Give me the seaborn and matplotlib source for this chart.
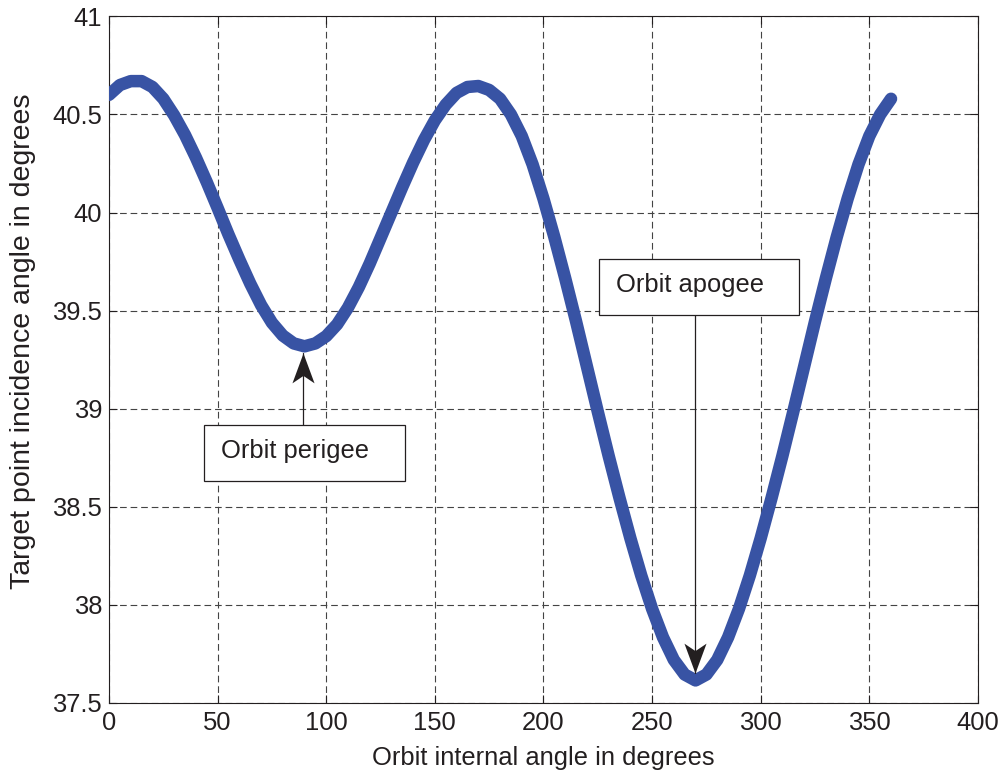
import numpy as np
import pandas as pd
import matplotlib
matplotlib.use("Agg")
import matplotlib.pyplot as plt
from matplotlib.patches import Rectangle
from matplotlib.path import Path
import seaborn as sns

# Orbit internal angle (deg) and target point incidence angle (deg)
orbit_angle = list(range(0, 361, 5))
incidence_angle = [
    40.60, 40.65, 40.67, 40.67, 40.64, 40.58, 40.495, 40.395, 40.28, 40.155,
    40.023, 39.888, 39.76, 39.638, 39.528, 39.438, 39.373, 39.333, 39.318,
    39.333, 39.37, 39.43, 39.515, 39.62, 39.74, 39.87, 40.0, 40.13, 40.255,
    40.37, 40.47, 40.55, 40.61, 40.64, 40.645, 40.625, 40.58,
    40.50, 40.39, 40.245, 40.07, 39.875, 39.665, 39.445, 39.215, 38.985, 38.76,
    38.545, 38.34, 38.15, 37.98, 37.835, 37.72, 37.645, 37.615,
    37.645, 37.72, 37.835, 37.98, 38.15, 38.34, 38.545, 38.76, 38.985, 39.215,
    39.445, 39.665, 39.875, 40.07, 40.245, 40.39, 40.50, 40.58,
]

x_ticks = [0, 50, 100, 150, 200, 250, 300, 350, 400]
y_ticks = [37.5, 38, 38.5, 39, 39.5, 40, 40.5, 41]
y_tick_labels = ["37.5", "38", "38.5", "39", "39.5", "40", "40.5", "41"]

# Callouts: label, box corners (x0, x1, y_bottom, y_top), arrow tip (x, y)
callout_labels = ["Orbit perigee", "Orbit apogee"]
callout_boxes = [(43.9, 136.1, 38.633, 38.918), (225.5, 317.6, 39.478, 39.765)]
callout_tips = [(89.2, 39.285), (269.7, 37.655)]

df = pd.DataFrame({"angle": orbit_angle, "incidence": incidence_angle})

sns.set_theme(style="white")
plt.rcParams["font.family"] = ["Liberation Sans", "DejaVu Sans"]
text_color = "#231f20"
font_size = 18.4

fig = plt.figure(figsize=(10.03, 7.73), dpi=100)
ax = fig.add_axes([0.1087, 0.0906, 0.975 - 0.1087, 0.9788 - 0.0906])

sns.lineplot(data=df, x="angle", y="incidence", ax=ax, color="#3853a4",
             linewidth=9, solid_capstyle="round", solid_joinstyle="round",
             zorder=3)

ax.set_xlim(0, 400)
ax.set_ylim(37.5, 41)
ax.set_xticks(x_ticks)
ax.set_xticklabels([str(v) for v in x_ticks])
ax.set_yticks(y_ticks)
ax.set_yticklabels(y_tick_labels)

ax.grid(True, linestyle=(0, (6, 3.5)), color="#444444", linewidth=0.8)
ax.tick_params(axis="both", which="both", direction="in", length=6, width=0.8,
               color=text_color, labelsize=font_size, labelcolor=text_color,
               top=True, right=True, left=True, bottom=True)
ax.tick_params(axis="x", pad=6)
ax.tick_params(axis="y", pad=5)
for spine in ax.spines.values():
    spine.set_visible(True)
    spine.set_color(text_color)
    spine.set_linewidth(0.8)

ax.set_xlabel("Orbit internal angle in degrees", fontsize=font_size,
              color=text_color, labelpad=8)
ax.set_ylabel("Target point incidence angle in degrees", fontsize=20.5,
              color=text_color)
ax.yaxis.set_label_coords(-0.084, 0.527)

# Notched arrowhead marker with its tip at the origin, pointing up
head_up = Path([(0, 0), (0.37, -1.0), (0, -0.75), (-0.37, -1.0), (0, 0)],
               [Path.MOVETO, Path.LINETO, Path.LINETO, Path.LINETO, Path.CLOSEPOLY])
head_down = Path([(0, 0), (0.37, 1.0), (0, 0.75), (-0.37, 1.0), (0, 0)],
                 [Path.MOVETO, Path.LINETO, Path.LINETO, Path.LINETO, Path.CLOSEPOLY])

for label, (x0, x1, yb, yt), (tx, ty) in zip(callout_labels, callout_boxes, callout_tips):
    ax.add_patch(Rectangle((x0, yb), x1 - x0, yt - yb, facecolor="white",
                           edgecolor=text_color, linewidth=0.9, zorder=5))
    ax.text(x0 + (x1 - x0) * 0.085, (yb + yt) / 2 + 0.01, label, fontsize=font_size,
            color=text_color, ha="left", va="center", zorder=6)
    if ty < yb:
        start_y, head = yb, head_down
    else:
        start_y, head = yt, head_up
    ax.plot([tx, tx], [start_y, ty], color=text_color, linewidth=0.9, zorder=4)
    ax.plot([tx], [ty], marker=head, markersize=43, color=text_color,
            markeredgewidth=0, zorder=4)

fig.savefig("out.png", dpi=100)
